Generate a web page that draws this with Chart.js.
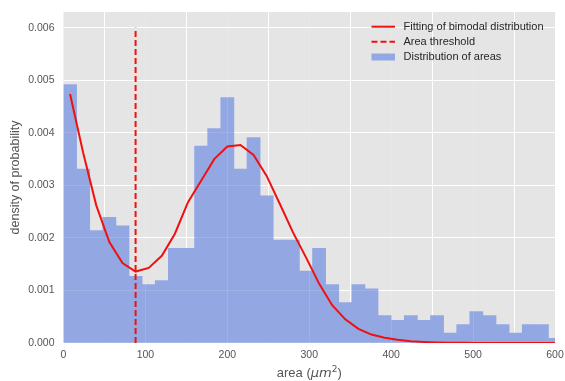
<!DOCTYPE html>
<html>
<head>
<meta charset="utf-8">
<title>Distribution of areas</title>
<script src="https://cdn.jsdelivr.net/npm/chart.js@4.4.1/dist/chart.umd.min.js"></script>
<style>
  html, body { margin: 0; padding: 0; background: #ffffff; }
  canvas { display: block; }
</style>
</head>
<body>
<canvas id="chart" width="565" height="381"></canvas>
<script>
// Histogram bins: centre of each 16 µm² bin
const binCenters = [
  8, 24, 40, 56, 72, 88, 104, 120, 136, 152,
  168, 184, 200, 216, 232, 248, 264, 280, 296, 312,
  328, 344, 360, 376, 392, 408, 424, 440, 456, 472,
  488, 504, 520, 536, 552, 568, 584, 600
];

// Normalised histogram (density of probability per bin)
const areaDensity = [
  0.00492, 0.00331, 0.00214, 0.00239, 0.00223, 0.00127, 0.00111, 0.00119, 0.00180, 0.00180,
  0.00375, 0.00408, 0.00467, 0.00331, 0.00391, 0.00280, 0.00196, 0.00196, 0.00137, 0.00180,
  0.00111, 0.00077, 0.00111, 0.00103, 0.00052, 0.00043, 0.00052, 0.00043, 0.00052, 0.00019,
  0.00035, 0.00060, 0.00052, 0.00035, 0.00019, 0.00035, 0.00035, 0.00009
];

// Fitted bimodal density evaluated at the bin centres
const fitDensity = [
  0.00474, 0.00362, 0.00262, 0.00192, 0.00152, 0.00136, 0.00143, 0.00166, 0.00208, 0.00268,
  0.00309, 0.00350, 0.00374, 0.00377, 0.00358, 0.00318, 0.00265, 0.00211, 0.00163, 0.00113,
  0.00072, 0.00045, 0.00027, 0.00016, 0.00010, 0.00006, 0.000035, 0.00002, 0.00001, 0.000005,
  0.000003, 0.000001, 0, 0, 0, 0, 0, 0
];

// Area threshold between the two populations, drawn up to thresholdTop
const thresholdArea = 88;
const thresholdTop = 0.006;

const xTicks = [0, 100, 200, 300, 400, 500, 600];
const yTicks = [0, 0.001, 0.002, 0.003, 0.004, 0.005, 0.006];

const legendLabels = [
  'Fitting of bimodal distribution',
  'Area threshold',
  'Distribution of areas'
];

const FONT = '"Liberation Sans", Arial, sans-serif';
const MATH_FONT = '"DejaVu Sans", "Liberation Sans", sans-serif';
const PANEL = '#E5E5E5';
const BAR_COLOR = '#93A7E3';
const LINE_COLOR = '#F01010';
const TEXT = '#555555';
const LEGEND_TEXT = '#262626';

// White figure with a grey plotting panel
const panelBackground = {
  id: 'panelBackground',
  beforeDraw(chart) {
    const { ctx, chartArea: a } = chart;
    ctx.save();
    ctx.fillStyle = '#ffffff';
    ctx.fillRect(0, 0, chart.width, chart.height);
    ctx.fillStyle = PANEL;
    ctx.fillRect(a.left, a.top, a.right - a.left, a.bottom - a.top);
    ctx.restore();
  }
};

// Faint grid showing through the translucent-looking histogram
const gridThroughBars = {
  id: 'gridThroughBars',
  afterDatasetDraw(chart, args) {
    if (args.meta.type !== 'bar') return;
    const { ctx, chartArea: a, scales: { x, y } } = chart;
    const align = p => Math.round(p - 0.5) + 0.5;
    ctx.save();
    ctx.beginPath();
    ctx.rect(a.left, a.top, a.right - a.left, a.bottom - a.top);
    ctx.clip();
    ctx.strokeStyle = 'rgba(255,255,255,0.12)';
    ctx.lineWidth = 1;
    ctx.beginPath();
    xTicks.forEach(v => {
      const p = align(x.getPixelForValue(v));
      ctx.moveTo(p, a.top);
      ctx.lineTo(p, a.bottom);
    });
    yTicks.forEach(v => {
      const p = align(y.getPixelForValue(v));
      ctx.moveTo(a.left, p);
      ctx.lineTo(a.right, p);
    });
    ctx.stroke();
    ctx.restore();
  }
};

// x-axis label with an italic unit and a raised exponent
const areaAxisTitle = {
  id: 'areaAxisTitle',
  afterDraw(chart) {
    const { ctx, chartArea: a } = chart;
    const parts = [
      { t: 'area (', font: `13px ${FONT}`, dy: 0 },
      { t: 'μm', font: `italic 13px ${MATH_FONT}`, dy: 0 },
      { t: '2', font: `9px ${MATH_FONT}`, dy: -5 },
      { t: ')', font: `13px ${FONT}`, dy: 0 }
    ];
    ctx.save();
    ctx.fillStyle = TEXT;
    ctx.textBaseline = 'alphabetic';
    ctx.textAlign = 'left';
    let total = 0;
    parts.forEach(p => { ctx.font = p.font; p.w = ctx.measureText(p.t).width; total += p.w; });
    let cx = (a.left + a.right) / 2 - total / 2;
    const baseY = 377;
    parts.forEach(p => {
      ctx.font = p.font;
      ctx.fillText(p.t, cx, baseY + p.dy);
      cx += p.w;
    });
    ctx.restore();
  }
};

// Legend placed inside the panel, top right
const panelLegend = {
  id: 'panelLegend',
  afterDraw(chart) {
    const { ctx } = chart;
    const x0 = 371.5, x1 = 395, tx = 403.5;
    const rows = [26.7, 41.8, 57];
    ctx.save();
    ctx.lineWidth = 2;
    ctx.strokeStyle = LINE_COLOR;

    ctx.beginPath();
    ctx.moveTo(x0, rows[0]);
    ctx.lineTo(x1, rows[0]);
    ctx.stroke();

    ctx.setLineDash([6, 3]);
    ctx.beginPath();
    ctx.moveTo(x0, rows[1]);
    ctx.lineTo(x1, rows[1]);
    ctx.stroke();
    ctx.setLineDash([]);

    ctx.fillStyle = BAR_COLOR;
    ctx.fillRect(x0, rows[2] - 3.5, x1 - x0, 7);

    ctx.fillStyle = LEGEND_TEXT;
    ctx.font = `11px ${FONT}`;
    ctx.textAlign = 'left';
    ctx.textBaseline = 'middle';
    legendLabels.forEach((label, i) => ctx.fillText(label, tx, rows[i]));
    ctx.restore();
  }
};

new Chart(document.getElementById('chart'), {
  type: 'bar',
  data: {
    datasets: [
      {
        type: 'line',
        label: legendLabels[0],
        data: binCenters.map((x, i) => ({ x, y: fitDensity[i] })),
        borderColor: LINE_COLOR,
        borderWidth: 2,
        pointRadius: 0,
        tension: 0,
        fill: false,
        order: 0
      },
      {
        type: 'line',
        label: legendLabels[1],
        data: [{ x: thresholdArea, y: 0 }, { x: thresholdArea, y: thresholdTop }],
        borderColor: LINE_COLOR,
        borderWidth: 2,
        borderDash: [6, 3],
        pointRadius: 0,
        fill: false,
        order: 1
      },
      {
        type: 'bar',
        label: legendLabels[2],
        data: binCenters.map((x, i) => ({ x, y: areaDensity[i] })),
        backgroundColor: BAR_COLOR,
        borderWidth: 0,
        barPercentage: 1,
        categoryPercentage: 1,
        clip: 0,
        order: 2
      }
    ]
  },
  options: {
    responsive: false,
    animation: false,
    devicePixelRatio: 1,
    events: [],
    layout: { padding: { top: 12, right: 10, bottom: 0, left: 0 } },
    plugins: {
      legend: { display: false },
      tooltip: { enabled: false }
    },
    scales: {
      x: {
        type: 'linear',
        min: 0,
        max: 600,
        offset: false,
        grid: { color: '#ffffff', lineWidth: 1, drawTicks: false },
        border: { display: false },
        ticks: {
          padding: 6,
          color: TEXT,
          font: { family: FONT, size: 10.5 },
          maxRotation: 0,
          callback: v => String(v)
        },
        afterBuildTicks: s => { s.ticks = xTicks.map(v => ({ value: v })); },
        afterFit: s => {
          s.height = 38;
          s.paddingLeft = 0;
          s.paddingRight = 0;
        }
      },
      y: {
        type: 'linear',
        min: 0,
        max: 0.0063,
        grid: { color: '#ffffff', lineWidth: 1, drawTicks: false },
        border: { display: false },
        ticks: {
          padding: 9,
          color: TEXT,
          font: { family: FONT, size: 10.5 },
          callback: v => Number(v).toFixed(3)
        },
        afterBuildTicks: s => { s.ticks = yTicks.map(v => ({ value: v })); },
        afterFit: s => {
          s.width = 63.5;
          s.paddingTop = 0;
          s.paddingBottom = 0;
        },
        title: {
          display: true,
          text: 'density of probability',
          color: TEXT,
          font: { family: FONT, size: 12.5 },
          padding: { top: 8.5, bottom: 0 }
        }
      }
    }
  },
  plugins: [panelBackground, gridThroughBars, areaAxisTitle, panelLegend]
});
</script>
</body>
</html>
